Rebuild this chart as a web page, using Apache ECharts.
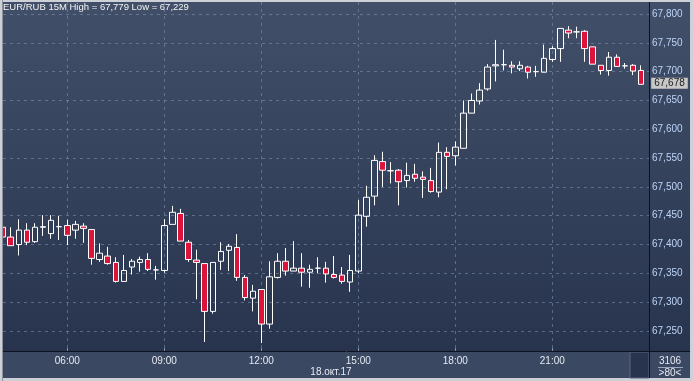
<!DOCTYPE html>
<html><head><meta charset="utf-8">
<script src="https://cdn.jsdelivr.net/npm/echarts@6/dist/echarts.min.js"></script>
<style>html,body{margin:0;padding:0;background:#cdd0d6}#c{width:693px;height:381px}</style>
</head><body><div id="c"></div>
<script>
const symbol = 'EUR/RUB';
const timeframe = '15M';
const dateLabel = '18.окт.17';
const barCount = '3106';
const visibleBars = '>80<';
const categories = [
'04:00','04:15','04:30','04:45','05:00','05:15','05:30','05:45',
'06:00','06:15','06:30','06:45','07:00','07:15','07:30','07:45',
'08:00','08:15','08:30','08:45','09:00','09:15','09:30','09:45',
'10:00','10:15','10:30','10:45','11:00','11:15','11:30','11:45',
'12:00','12:15','12:30','12:45','13:00','13:15','13:30','13:45',
'14:00','14:15','14:30','14:45','15:00','15:15','15:30','15:45',
'16:00','16:15','16:30','16:45','17:00','17:15','17:30','17:45',
'18:00','18:15','18:30','18:45','19:00','19:15','19:30','19:45',
'20:00','20:15','20:30','20:45','21:00','21:15','21:30','21:45',
'22:00','22:15','22:30','22:45','23:00','23:15','23:30','23:45'];
const labeledTimes = ['06:00','09:00','12:00','15:00','18:00','21:00'];
const opens = [
67.430,67.413,67.400,67.425,67.405,67.430,67.419,67.431,67.433,67.425,
67.432,67.426,67.374,67.380,67.369,67.336,67.361,67.369,67.374,67.356,
67.355,67.435,67.454,67.404,67.373,67.367,67.284,67.371,67.390,67.395,
67.343,67.307,67.322,67.262,67.343,67.371,67.354,67.359,67.352,67.359,
67.359,67.348,67.347,67.335,67.354,67.449,67.484,67.544,67.528,67.529,
67.511,67.522,67.517,67.511,67.491,67.560,67.554,67.567,67.628,67.649,
67.670,67.710,67.712,67.711,67.705,67.708,67.700,67.699,67.721,67.740,
67.772,67.769,67.770,67.743,67.711,67.702,67.725,67.710,67.711,67.702];
const closes = [
67.413,67.398,67.425,67.404,67.430,67.431,67.442,67.431,67.416,67.435,
67.428,67.376,67.385,67.367,67.336,67.355,67.371,67.374,67.357,67.356,
67.433,67.456,67.406,67.374,67.369,67.284,67.369,67.388,67.397,67.343,
67.308,67.319,67.262,67.344,67.371,67.354,67.359,67.352,67.357,67.359,
67.349,67.343,67.336,67.355,67.451,67.482,67.546,67.529,67.528,67.509,
67.520,67.515,67.513,67.492,67.560,67.553,67.569,67.628,67.650,67.668,
67.708,67.712,67.712,67.708,67.711,67.699,67.700,67.723,67.740,67.775,
67.767,67.769,67.740,67.713,67.702,67.725,67.709,67.710,67.701,67.678];
const lows = [
67.413,67.398,67.381,67.399,67.403,67.415,67.410,67.408,67.399,67.410,
67.403,67.365,67.370,67.365,67.334,67.336,67.348,67.353,67.354,67.339,
67.351,67.435,67.406,67.370,67.305,67.231,67.280,67.356,67.354,67.337,
67.303,67.284,67.229,67.254,67.341,67.346,67.354,67.327,67.325,67.350,
67.334,67.341,67.332,67.318,67.350,67.431,67.468,67.500,67.506,67.468,
67.499,67.509,67.481,67.490,67.482,67.496,67.537,67.567,67.628,67.643,
67.667,67.683,67.702,67.697,67.701,67.688,67.691,67.699,67.717,67.717,
67.758,67.758,67.717,67.713,67.695,67.693,67.709,67.705,67.694,67.678];
const highs = [
67.430,67.430,67.444,67.437,67.437,67.451,67.451,67.450,67.443,67.441,
67.437,67.426,67.402,67.396,67.378,67.382,67.375,67.379,67.385,67.363,
67.444,67.467,67.462,67.408,67.391,67.367,67.369,67.404,67.401,67.418,
67.347,67.330,67.322,67.371,67.385,67.394,67.406,67.385,67.365,67.378,
67.370,67.380,67.361,67.382,67.477,67.502,67.555,67.561,67.543,67.531,
67.542,67.540,67.527,67.533,67.577,67.569,67.579,67.650,67.662,67.680,
67.713,67.755,67.738,67.718,67.718,67.710,67.710,67.747,67.744,67.775,
67.779,67.778,67.772,67.743,67.711,67.734,67.730,67.715,67.713,67.711];
const priceTickMin = 67.25;
const priceTickMax = 67.80;
const priceTickStep = 0.05;

// layout (pixels)
const plotTop = 2, plotBottom = 351, plotLeft = 3, axisX = 649;
const tickTopY = 14, tickBottomY = 331;
const firstCandleX = 2.63, lastCandleX = 641.2;
const frameColor = '#cdd0d6';

const fmt = v => v.toFixed(3).replace('.', ',');
const candleData = categories.map((c, i) => [opens[i], closes[i], lows[i], highs[i]]);
const hi = Math.max(...highs), lo = Math.min(...lows);
const lastClose = closes[closes.length - 1];
const pxPerUnit = (tickBottomY - tickTopY) / (priceTickMax - priceTickMin);
const candleMin = priceTickMin - (plotBottom - tickBottomY) / pxPerUnit;
const candleMax = priceTickMax + (tickTopY - plotTop) / pxPerUnit;
const showLabel = (idx) => labeledTimes.indexOf(categories[idx]) >= 0;

const FONT = 'Liberation Sans';
const gridLine = { color: 'rgba(130,150,185,0.55)', type: [3, 4], width: 1 };

const chart = echarts.init(document.getElementById('c'), null, { renderer: 'canvas' });
chart.setOption({
  animation: false,
  backgroundColor: frameColor,
  textStyle: { fontFamily: FONT },
  title: {
    text: symbol + ' ' + timeframe + ' High = ' + fmt(hi) + ' Low = ' + fmt(lo),
    left: 3, top: 2, padding: 0,
    textStyle: { color: '#f4f4f4', fontSize: 9.5, fontWeight: 'normal', fontFamily: FONT }
  },
  grid: [
    { left: firstCandleX, width: lastCandleX - firstCandleX, top: plotTop, height: plotBottom - plotTop },
    { left: plotLeft, width: axisX - plotLeft, top: tickTopY, height: tickBottomY - tickTopY }
  ],
  xAxis: [
    { type: 'category', gridIndex: 0, data: categories, boundaryGap: false,
      axisLine: { show: false },
      axisTick: { show: true, inside: true, length: 3, interval: showLabel, lineStyle: { color: 'rgba(170,185,210,0.7)' } },
      axisLabel: { interval: showLabel, color: '#e6eaf2', fontSize: 10, margin: 5, fontFamily: FONT },
      splitLine: { show: true, interval: showLabel, lineStyle: gridLine } },
    { type: 'value', gridIndex: 1, show: false, min: 0, max: 1 }
  ],
  yAxis: [
    { type: 'value', gridIndex: 0, show: false, min: candleMin, max: candleMax, splitLine: { show: false } },
    { type: 'value', gridIndex: 1, position: 'right', min: priceTickMin, max: priceTickMax, interval: priceTickStep,
      axisLine: { show: false }, axisTick: { show: false },
      axisLabel: { color: '#bcd4f8', fontSize: 10, margin: 3, formatter: fmt, fontFamily: FONT },
      splitLine: { show: true, lineStyle: gridLine } }
  ],
  series: [{
    type: 'candlestick', xAxisIndex: 0, yAxisIndex: 0,
    data: candleData, barWidth: 6, clip: false,
    itemStyle: { color: 'rgba(0,0,0,0)', color0: '#dc143c', borderColor: '#ffffff', borderColor0: '#ffffff', borderWidth: 1 },
    markLine: {
      silent: true, symbol: ['none', 'none'],
      lineStyle: { color: 'rgba(0,0,0,0)', width: 0, opacity: 1 },
      data: [{ yAxis: lastClose }],
      label: { show: true, opacity: 1, position: 'end', distance: 10, formatter: () => fmt(lastClose),
        backgroundColor: '#c8c8c8', color: '#1a1a1a', fontSize: 10, padding: [1, 3, 0, 3], fontFamily: FONT }
    }
  }],
  graphic: [
    { type: 'rect', z: -10, silent: true, shape: { x: plotLeft, y: plotTop, width: 690 - plotLeft, height: plotBottom - plotTop },
      style: { fill: { type: 'linear', x: 0, y: 0, x2: 0, y2: 1, colorStops: [
        { offset: 0, color: '#424f69' }, { offset: 0.5, color: '#35425c' }, { offset: 1, color: '#28344e' }] } } },
    { type: 'rect', z: -10, silent: true, shape: { x: plotLeft, y: plotBottom + 1, width: 690 - plotLeft, height: 378 - plotBottom - 1 },
      style: { fill: '#3b4862' } },
    { type: 'rect', z: -9, silent: true, shape: { x: 630, y: plotBottom + 1, width: axisX - 630, height: 378 - plotBottom - 1 },
      style: { fill: '#28334d', stroke: '#5a6680', lineWidth: 1 } },
    { type: 'rect', z: 30, silent: true, shape: { x: 0, y: 0, width: plotLeft, height: 381 }, style: { fill: frameColor } },
    { type: 'line', z: 30, silent: true, shape: { x1: plotLeft - 0.5, y1: 0, x2: plotLeft - 0.5, y2: 381 }, style: { stroke: '#8c929c', lineWidth: 1 } },
    { type: 'line', z: 20, silent: true, shape: { x1: plotLeft, y1: plotBottom + 0.5, x2: 690, y2: plotBottom + 0.5 }, style: { stroke: '#0c1220', lineWidth: 1 } },
    { type: 'line', z: 20, silent: true, shape: { x1: axisX + 0.5, y1: plotTop, x2: axisX + 0.5, y2: 378 }, style: { stroke: '#0c1220', lineWidth: 1 } },
    { type: 'text', z: 20, silent: true, style: { x: 331, y: 372, text: dateLabel, fill: '#e6eaf2', font: '10px "Liberation Sans"', textAlign: 'center', textVerticalAlign: 'middle' } },
    { type: 'text', z: 20, silent: true, style: { x: 670, y: 361, text: barCount, fill: '#e6eaf2', font: '10px "Liberation Sans"', textAlign: 'center', textVerticalAlign: 'middle' } },
    { type: 'line', z: 20, silent: true, shape: { x1: 658, y1: 367.5, x2: 683, y2: 367.5 }, style: { stroke: '#9aa6bd', lineWidth: 1 } },
    { type: 'text', z: 20, silent: true, style: { x: 670, y: 373, text: visibleBars, fill: '#e6eaf2', font: '10px "Liberation Sans"', textAlign: 'center', textVerticalAlign: 'middle' } }
  ]
});
</script></body></html>
